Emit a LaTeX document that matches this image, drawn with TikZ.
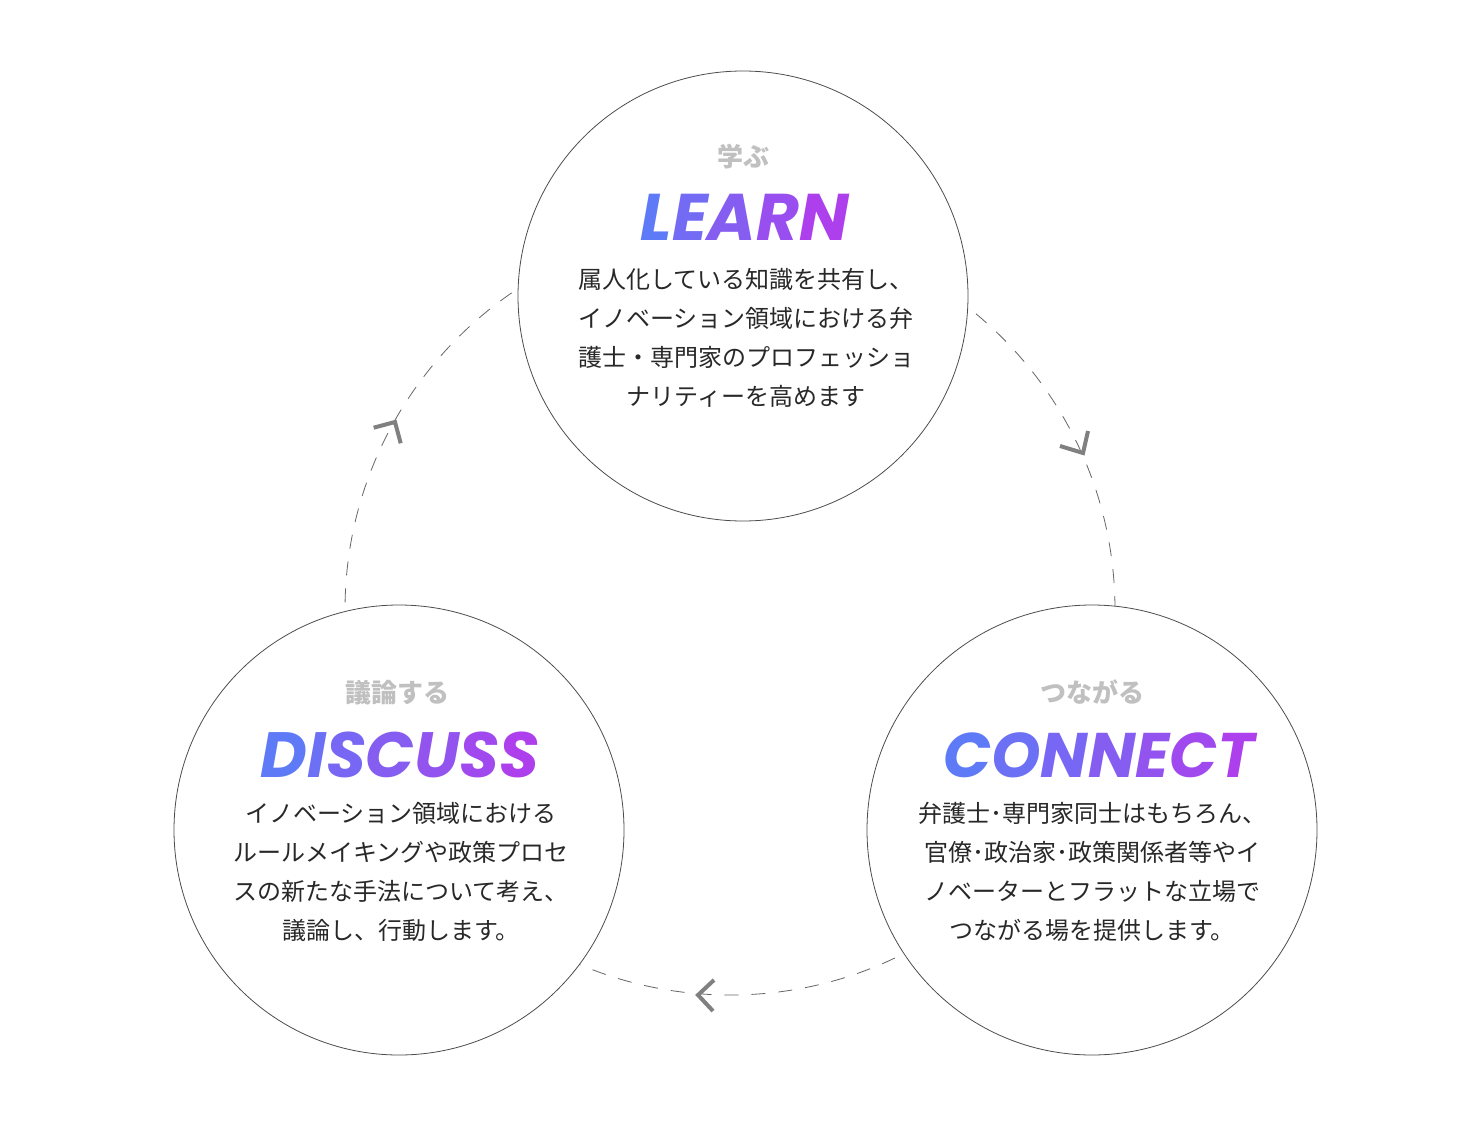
\documentclass[tikz,border=0pt]{standalone}
\usepackage{fontspec}
\newfontfamily\jp{Noto Sans CJK JP}
\newfontfamily\titlefont{Poppins}
\definecolor{gA}{RGB}{90,125,248}
\definecolor{gB}{RGB}{178,60,235}
\definecolor{lbl}{RGB}{192,192,192}
\definecolor{body}{RGB}{40,40,40}
\definecolor{chevc}{RGB}{128,128,128}
\newcommand\gl[2]{\textcolor{gA!#1!gB}{#2}}
\tikzset{
  bigc/.style={circle, draw=black!70, line width=0.8pt, fill=white, minimum size=450pt, inner sep=0pt},
  lbltxt/.style={font=\jp\bfseries\fontsize{26}{30}\selectfont, text=lbl, inner sep=0pt},
  ttl/.style={font=\titlefont\bfseries\itshape\fontsize{66}{70}\selectfont, inner sep=0pt, anchor=base},
  bodytxt/.style={font=\jp\fontsize{24}{39}\selectfont, text=body, align=center, inner sep=0pt},
  ring/.style={draw=black!60, line width=0.8pt, dash pattern=on 14pt off 13pt},
  chev/.style={draw=chevc, line width=4pt}
}
\begin{document}
\begin{tikzpicture}[x=1pt,y=-1pt]
\useasboundingbox[fill=white] (0,0) rectangle (1482,1121);
% dashed cycle ring
\draw[ring] (730,610) circle[radius=385pt];
% chevrons
\draw[chev] (373.7,427.7) -- (395,422) -- (400.7,443.3);
\draw[chev] (1088,431) -- (1083,453) -- (1060,446);
\draw[chev] (714,980) -- (698,995) -- (713,1011);
% circles
\node[bigc] (learn) at (743,296) {};
\node[bigc] (discuss) at (399,830) {};
\node[bigc] (connect) at (1092,830) {};
% LEARN
\node[lbltxt] (learnlbl) at (743,157) {学ぶ};
\node[ttl] (learnttl) at (745,240) {\gl{95}{L}\gl{72}{E}\gl{50}{A}\gl{28}{R}\gl{5}{N}};
\node[bodytxt] (learnbody) at (746,337.5) {属人化している知識を共有し、\\イノベーション領域における弁\\護士・専門家のプロフェッショ\\ナリティーを高めます};
% DISCUSS
\node[lbltxt] (discusslbl) at (397,693) {議論する};
\node[ttl, font=\titlefont\bfseries\itshape\fontsize{64}{70}\selectfont\addfontfeature{LetterSpace=-1.5}] (discussttl) at (400,777) {\gl{95}{D}\gl{80}{I}\gl{66}{S}\gl{50}{C}\gl{35}{U}\gl{20}{S}\gl{5}{S}};
% CONNECT
\node[lbltxt] (connectlbl) at (1092,692) {つながる};
\node[ttl, font=\titlefont\bfseries\itshape\fontsize{63}{70}\selectfont\addfontfeature{LetterSpace=-4}] (connectttl) at (1099,777) {\gl{95}{C}\gl{80}{O}\gl{66}{N}\gl{50}{N}\gl{35}{E}\gl{20}{C}\gl{5}{T}};
\node[bodytxt] (discussbody) at (401,871.5) {イノベーション領域における\\ルールメイキングや政策プロセ\\スの新たな手法について考え、\\議論し、行動します。};
\node[bodytxt] (connectbody) at (1092,871.5) {弁護士･専門家同士はもちろん、\\官僚･政治家･政策関係者等やイ\\ノベーターとフラットな立場で\\つながる場を提供します。};
\end{tikzpicture}
\end{document}
